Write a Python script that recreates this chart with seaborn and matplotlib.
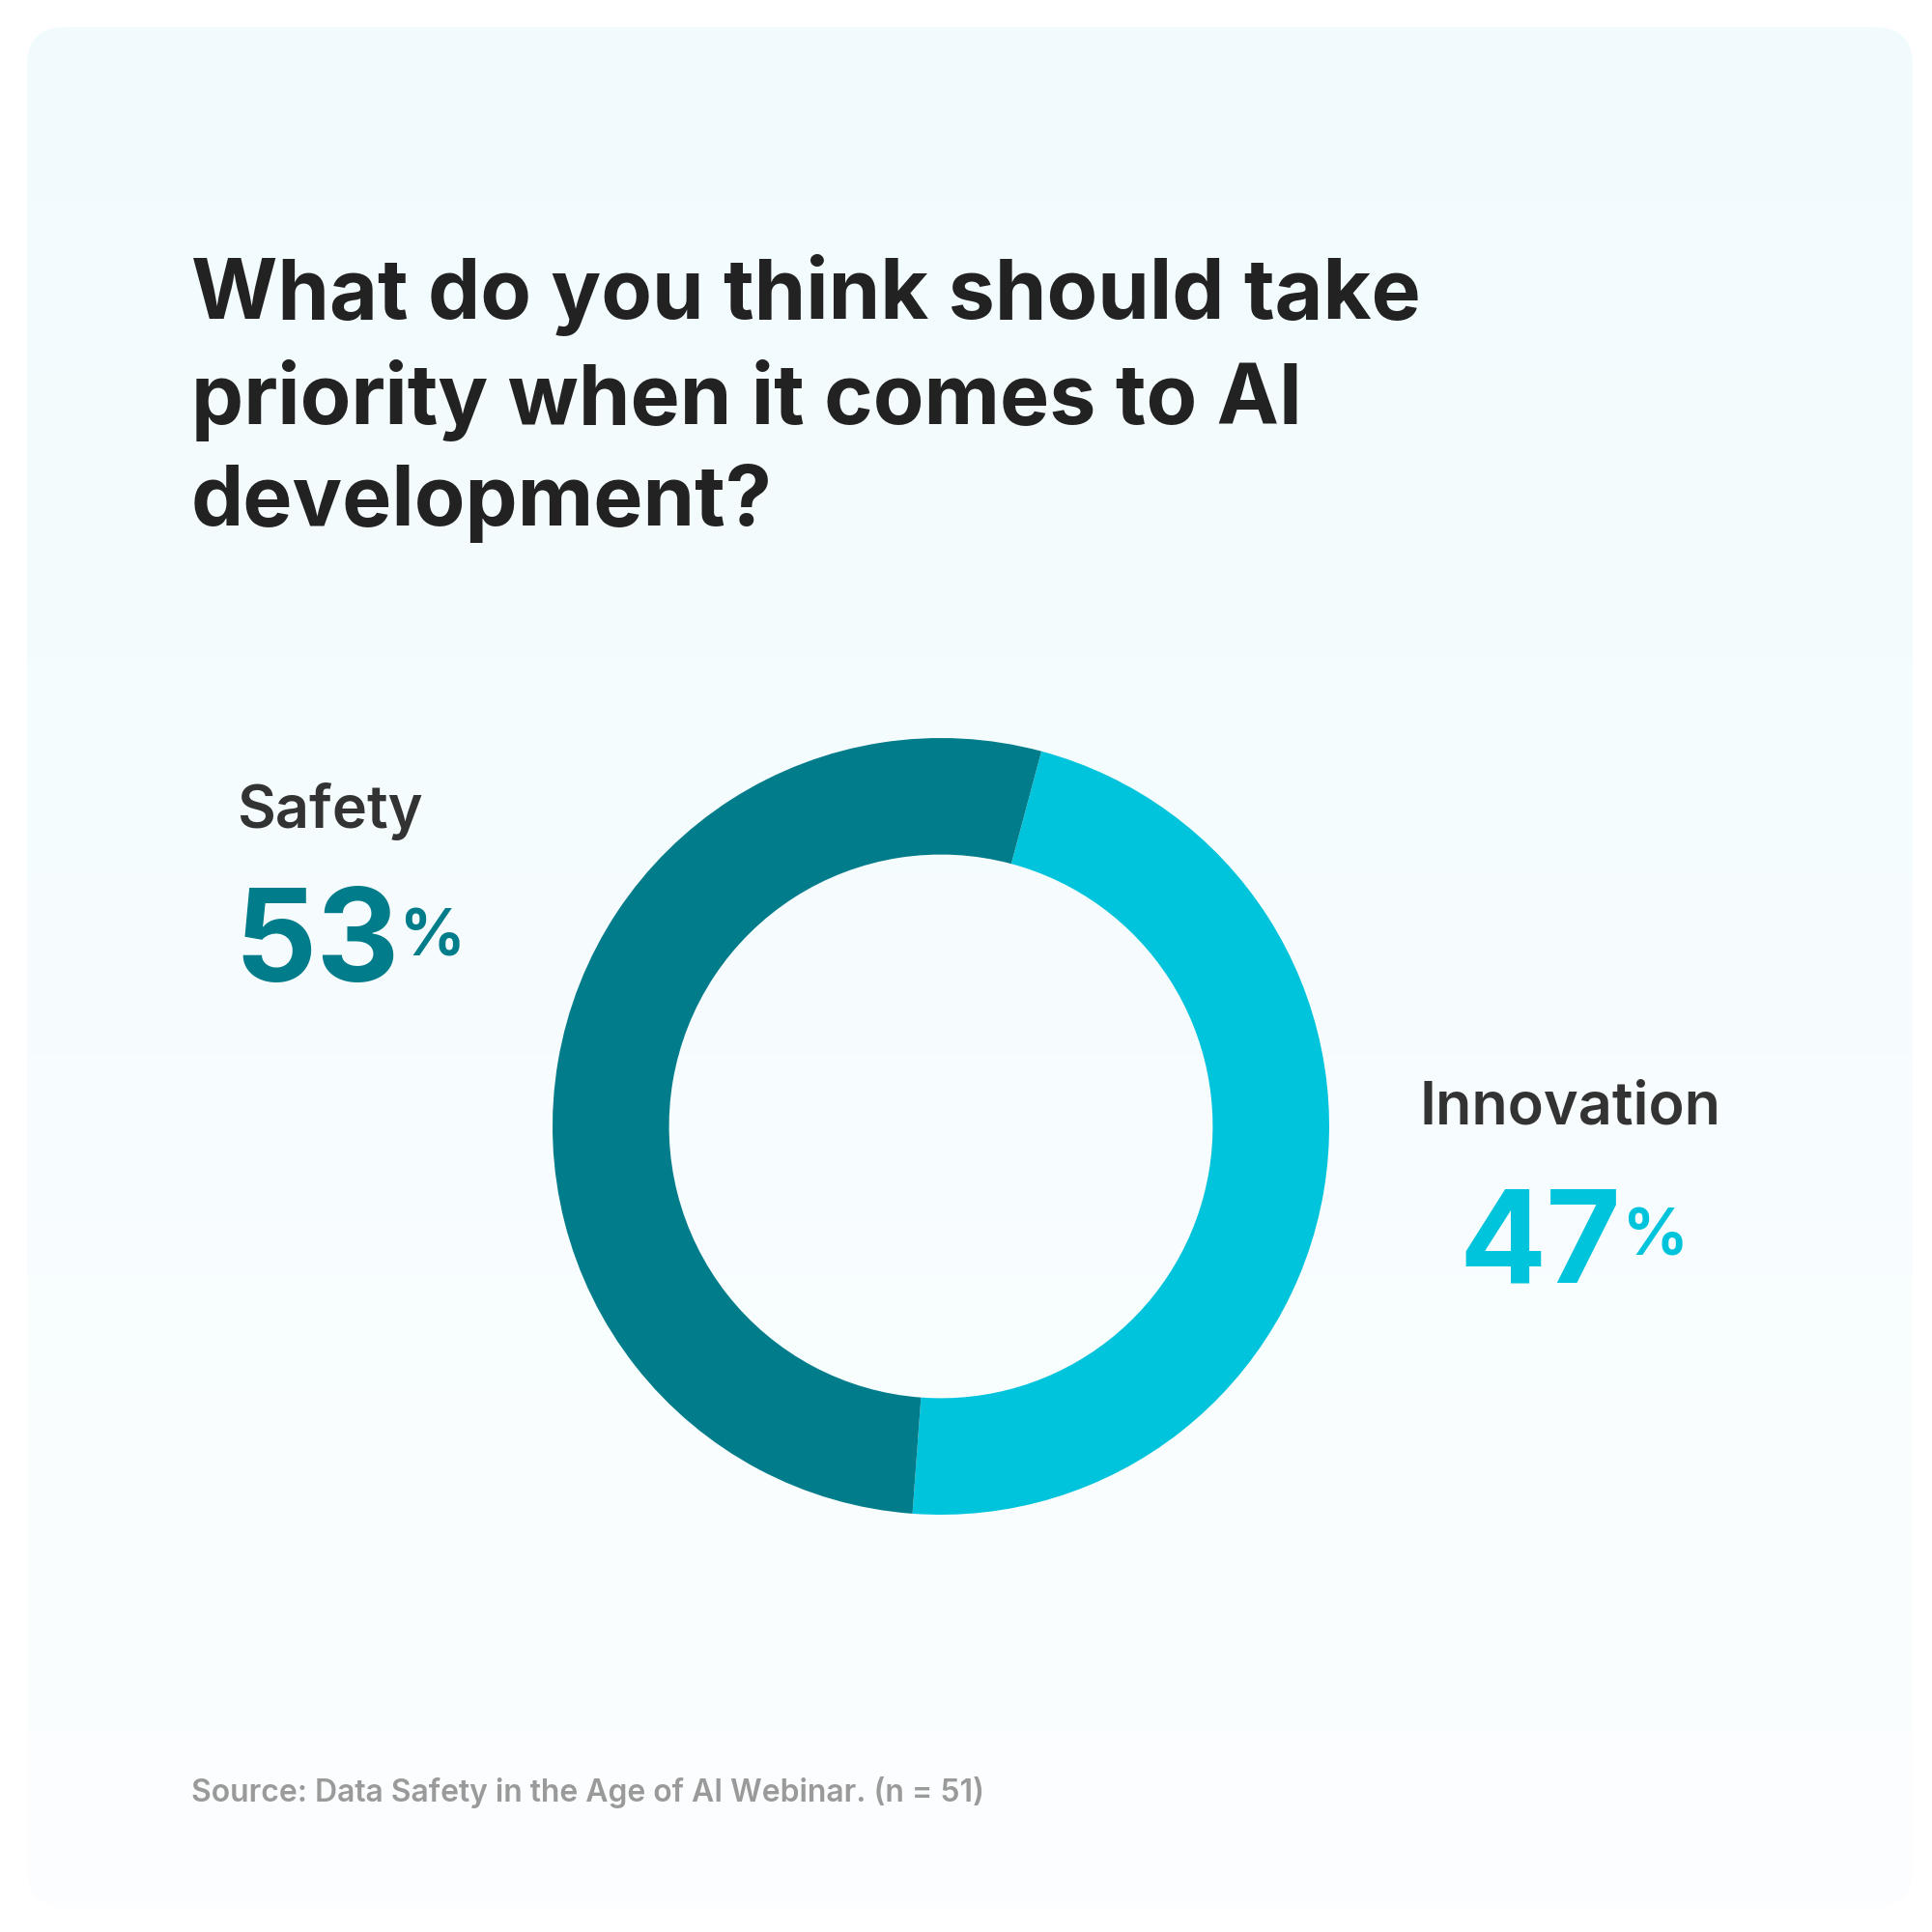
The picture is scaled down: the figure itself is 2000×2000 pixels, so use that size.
import matplotlib.pyplot as plt
import seaborn as sns
import numpy as np
from matplotlib.patches import FancyBboxPatch

# data
labels = ['Innovation', 'Safety']
shares = [47, 53]
colors = ['#00C4DC', '#007C8A']

sns.set_style('white')
plt.rcParams['font.family'] = 'Inter'

fig = plt.figure(figsize=(20, 20), dpi=100)
fig.patch.set_facecolor('white')

# card background with soft gradient
bg = fig.add_axes([0, 0, 1, 1], zorder=0)
bg.set_xlim(0, 1); bg.set_ylim(0, 1); bg.axis('off')
grad = np.linspace(1, 0, 256).reshape(-1, 1)
img = bg.imshow(grad, extent=[0.014, 0.99, 0.013, 0.986], aspect='auto',
                cmap=sns.blend_palette(['#FCFEFF', '#F1FBFD'], as_cmap=True), zorder=1)
card = FancyBboxPatch((0.014, 0.013), 0.976, 0.973, boxstyle='round,pad=0,rounding_size=0.02',
                      transform=bg.transAxes, facecolor='none', edgecolor='none')
bg.add_patch(card)
img.set_clip_path(card)

# donut
cx, cy, r = 0.487, 1 - 0.583, 0.201
ax = fig.add_axes([cx - r, cy - r, 2 * r, 2 * r], zorder=2)
ax.pie(shares, colors=colors, startangle=75, counterclock=False,
       wedgeprops=dict(width=0.3, edgecolor='none'))
ax.set_xlim(-1, 1); ax.set_ylim(-1, 1)
ax.set_aspect('equal')

def fy(px):
    return 1 - px / 1560

fig.text(0.099, fy(205), 'What do you think should take\npriority when it comes to AI\ndevelopment?',
         fontsize=62, fontweight='bold', color='#222222', va='top', linespacing=1.36)

fig.text(0.123, fy(655), 'Safety', fontsize=44, fontweight='semibold', color='#333333', va='center')
fig.text(0.121, fy(765), '53', fontsize=96, fontweight='bold', color=colors[1], va='center')
fig.text(0.207, fy(758), '%', fontsize=48, fontweight='bold', color=colors[1], va='center')

fig.text(0.735, fy(895), 'Innovation', fontsize=44, fontweight='semibold', color='#333333', va='center')
fig.text(0.755, fy(1008), '47', fontsize=96, fontweight='bold', color=colors[0], va='center')
fig.text(0.840, fy(1000), '%', fontsize=48, fontweight='bold', color=colors[0], va='center')

fig.text(0.099, fy(1447), 'Source: Data Safety in the Age of AI Webinar. (n = 51)',
         fontsize=23, fontweight='semibold', color='#9A9A9A', va='center')

fig.savefig('out.png', dpi=100, facecolor='white')
